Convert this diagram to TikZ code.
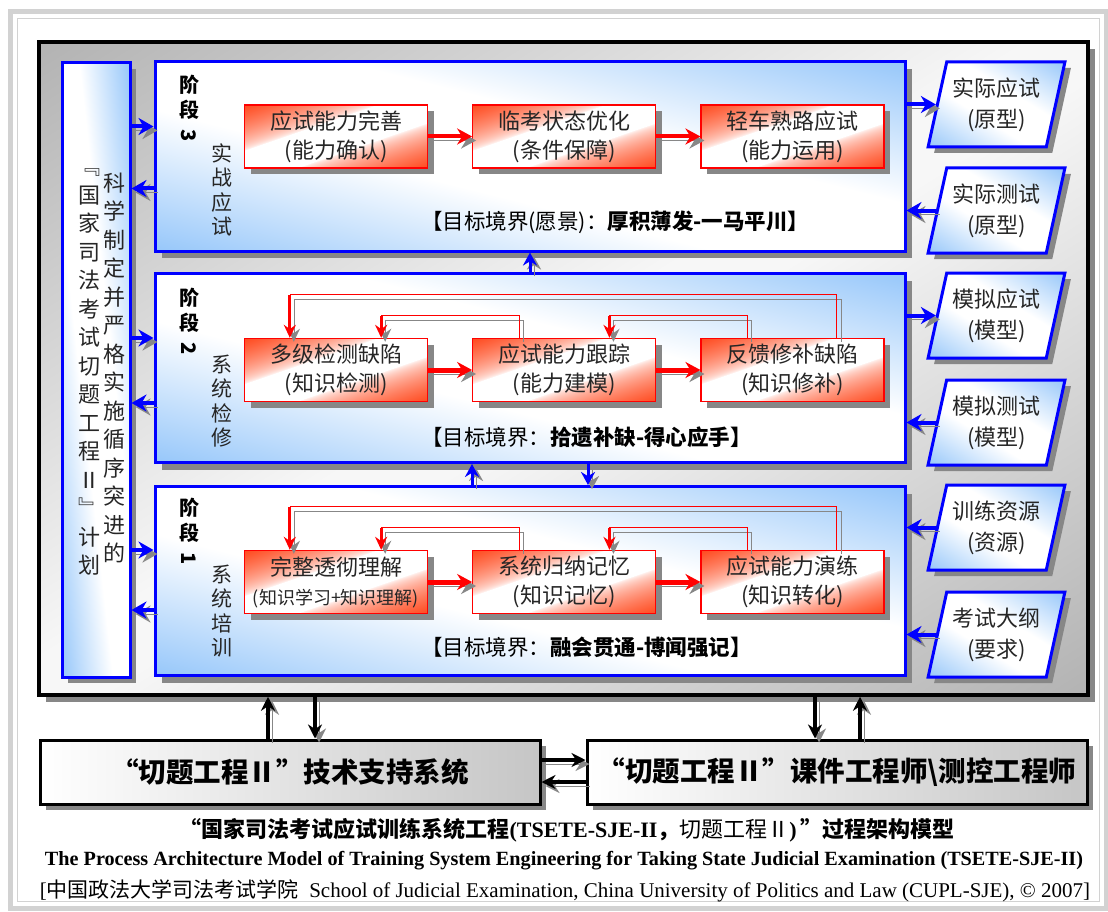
\documentclass[tikz,border=0pt]{standalone}
\usepackage{fontspec}
\setmainfont{Liberation Serif}
\newfontfamily\cjk{Noto Sans CJK SC}
\usepackage{graphicx}
\usetikzlibrary{positioning, shapes.geometric, shadows, arrows.meta}
\usepackage{xcolor}

\definecolor{shadegray}{RGB}{135,135,135}

% corner fades: white band along one diagonal, colour in the other two corners
\pgfdeclarefunctionalshading{redfade}{\pgfpointorigin}{\pgfpoint{100bp}{100bp}}{}{
	exch sub abs 50 div 0.28 sub 0.72 div
	dup 0 lt {pop 0} if dup 1 gt {pop 1} if 0.6 exp
	dup 0.71 mul 1 exch sub
	exch 0.88 mul 1 exch sub
	1 3 1 roll
}
\pgfdeclarefunctionalshading{bluefade}{\pgfpointorigin}{\pgfpoint{100bp}{100bp}}{}{
	add 100 sub abs 50 div 0.25 sub 0.75 div
	dup 0 lt {pop 0} if dup 1 gt {pop 1} if
	dup 0.41 mul 1 exch sub
	exch dup 0.22 mul 1 exch sub
	exch 0.02 mul 1 exch sub
}
\pgfdeclarefunctionalshading{grayfade}{\pgfpointorigin}{\pgfpoint{100bp}{100bp}}{}{
	exch sub abs 50 div 0.05 sub 0.95 div
	dup 0 lt {pop 0} if dup 1 gt {pop 1} if
	0.27 mul 0.97 exch sub dup dup
}

\begin{document}
\begin{tikzpicture}[x=1pt, y=-1pt,
		boxshadow/.style={drop shadow={shadow xshift=#1, shadow yshift=-#1, fill=shadegray, opacity=1}},
		arrshadow/.style={preaction={draw=shadegray, transform canvas={xshift=4pt, yshift=-4pt}}},
		mainbox/.style={draw=black, line width=3.5pt, shade, shading=grayfade, minimum width=1049pt, minimum height=653pt, boxshadow=7pt},
		planbox/.style={draw=blue, line width=3pt, shade, shading=bluefade, minimum width=68pt, minimum height=614pt, boxshadow=6pt},
		stagebox/.style={draw=blue, line width=3pt, shade, shading=bluefade, minimum width=750pt, minimum height=189pt, boxshadow=7pt},
		stepbox/.style={draw=red, line width=1.3pt, shade, shading=redfade, minimum width=183pt, minimum height=63pt, inner sep=0pt, align=center, text=black!85, font=\cjk\fontsize{22}{29}\selectfont, boxshadow=6pt},
		sourcebox/.style={trapezium, trapezium left angle=73, trapezium right angle=107, trapezium stretches=true, draw=blue, line width=3pt, shade, shading=bluefade, minimum width=137pt, minimum height=85pt, inner sep=0pt, align=center, text=black!85, font=\cjk\fontsize{22}{31}\selectfont, boxshadow=6pt},
		basebox/.style={draw=black, line width=3pt, left color=white, right color=gray!45, minimum width=500pt, minimum height=64pt, font=\cjk\bfseries\fontsize{27.5}{30}\selectfont, boxshadow=6pt},
		stagelbl/.style={font=\cjk\bfseries\fontsize{20}{25}\selectfont, align=center, inner sep=0pt, anchor=north},
		sidelbl/.style={font=\cjk\fontsize{21}{24.5}\selectfont, align=center, inner sep=0pt, text=black!85},
		plantxt/.style={font=\cjk\fontsize{22}{28.5}\selectfont, align=center, inner sep=0pt, text=black!85},
		goal/.style={font=\cjk\fontsize{21.5}{25}\selectfont, anchor=west, inner sep=0pt},
		bluearrow/.style={draw=blue, line width=4pt, -{Stealth[length=15pt, width=17pt]}, arrshadow},
		bluetip/.style={draw=blue, line width=3pt, -{Stealth[length=13pt, width=14pt]}, arrshadow},
		redarrow/.style={draw=red, line width=#1, -{Stealth[length=15pt, width=16pt]}, arrshadow},
		loopline/.style={draw=red, line width=1.2pt, arrshadow},
		looparrow/.style={draw=red, line width=3pt, -{Stealth[length=13pt, width=12pt]}, arrshadow},
		blackarrow/.style={draw=black, line width=3.5pt, -{Stealth[length=14pt, width=14pt]}, arrshadow}]
			\useasboundingbox (0,0) rectangle (1108,912);
			% Page frame
			\draw[gray!35, line width=5pt] (10,12) rectangle (1106,908);
			\draw[gray!35, line width=1pt] (17,19) rectangle (1099,901);
			% Main frame
			\node[mainbox] (frame) at (563.5,368.5) {};
			% Plan column
			\node[planbox] (plan) at (96,370) {};
			\node[plantxt] (plana) at (89,372) {﹃\\国\\家\\司\\法\\考\\试\\切\\题\\工\\程\\Ⅱ\\﹄\\计\\划};
			\node[plantxt] (planb) at (114,368) {科\\学\\制\\定\\并\\严\\格\\实\\施\\循\\序\\突\\进\\的};
			% Stage panels
			\node[stagebox] (stage3) at (530,156.5) {};
			\node[stagebox] (stage2) at (530,368) {};
			\node[stagebox] (stage1) at (530,581) {};
			\node[stagelbl] (lbl3) at (189,75) {阶\\段\\\rotatebox[origin=c]{-90}{3}};
			\node[stagelbl] (lbl2) at (189,288) {阶\\段\\\rotatebox[origin=c]{-90}{2}};
			\node[stagelbl] (lbl1) at (189,498) {阶\\段\\\rotatebox[origin=c]{-90}{1}};
			\node[sidelbl] (side3) at (222,190) {实\\战\\应\\试};
			\node[sidelbl] (side2) at (222,401) {系\\统\\检\\修};
			\node[sidelbl] (side1) at (222,611) {系\\统\\培\\训};
			% Stage 3
			\node[stepbox] (s31) at (336,136.5) {应试能力完善\\(能力确认)};
			\node[stepbox, right=44pt of s31] (s32) {临考状态优化\\(条件保障)};
			\node[stepbox, right=44pt of s32] (s33) {轻车熟路应试\\(能力运用)};
			\draw[redarrow=4pt] (s31) -- (s32);
			\draw[redarrow=4pt] (s32) -- (s33);
			\node[goal] (goal3) at (421,222) {【目标境界(愿景)：{\bfseries 厚积薄发-一马平川】}};
			% Stage 2
			\node[stepbox] (s21) at (336,370) {多级检测缺陷\\(知识检测)};
			\node[stepbox, right=44pt of s21] (s22) {应试能力跟踪\\(能力建模)};
			\node[stepbox, right=44pt of s22] (s23) {反馈修补缺陷\\(知识修补)};
			\draw[redarrow=5pt] (s21) -- (s22);
			\draw[redarrow=5pt] (s22) -- (s23);
			\draw[loopline] ([xshift=-48pt]s23.north east) |- ([xshift=46pt, yshift=43pt]s21.north west);
			\draw[looparrow] ([xshift=46pt, yshift=43pt]s21.north west) -- ([xshift=46pt]s21.north west);
			\draw[loopline] ([xshift=47pt]s22.north west) |- ([xshift=-47pt, yshift=22pt]s21.north east);
			\draw[looparrow] ([xshift=-47pt, yshift=22pt]s21.north east) -- ([xshift=-47pt]s21.north east);
			\draw[loopline] ([xshift=47pt]s23.north west) |- ([xshift=-47pt, yshift=22pt]s22.north east);
			\draw[looparrow] ([xshift=-47pt, yshift=22pt]s22.north east) -- ([xshift=-47pt]s22.north east);
			\node[goal] (goal2) at (421,437) {【目标境界：{\bfseries 拾遗补缺-得心应手】}};
			% Stage 1
			\node[stepbox] (s11) at (336,582) {完整透彻理解\\{\fontsize{18}{22}\selectfont (知识学习+知识理解)}};
			\node[stepbox, right=44pt of s11] (s12) {系统归纳记忆\\(知识记忆)};
			\node[stepbox, right=44pt of s12] (s13) {应试能力演练\\(知识转化)};
			\draw[redarrow=5pt] (s11) -- (s12);
			\draw[redarrow=5pt] (s12) -- (s13);
			\draw[loopline] ([xshift=-48pt]s13.north east) |- ([xshift=46pt, yshift=43pt]s11.north west);
			\draw[looparrow] ([xshift=46pt, yshift=43pt]s11.north west) -- ([xshift=46pt]s11.north west);
			\draw[loopline] ([xshift=47pt]s12.north west) |- ([xshift=-47pt, yshift=22pt]s11.north east);
			\draw[looparrow] ([xshift=-47pt, yshift=22pt]s11.north east) -- ([xshift=-47pt]s11.north east);
			\draw[loopline] ([xshift=47pt]s13.north west) |- ([xshift=-47pt, yshift=22pt]s12.north east);
			\draw[looparrow] ([xshift=-47pt, yshift=22pt]s12.north east) -- ([xshift=-47pt]s12.north east);
			\node[goal] (goal1) at (421,647) {【目标境界：{\bfseries 融会贯通-博闻强记】}};
			% Plan <-> stages
			\coordinate (in3) at ([yshift=30pt]stage3.west);
			\coordinate (out3) at ([yshift=-32pt]stage3.west);
			\coordinate (in2) at ([yshift=30pt]stage2.west);
			\coordinate (out2) at ([yshift=-35pt]stage2.west);
			\coordinate (in1) at ([yshift=31pt]stage1.west);
			\coordinate (out1) at ([yshift=-29pt]stage1.west);
			\draw[bluearrow] (in3 -| plan.east) -- (in3);
			\draw[bluearrow] (out3) -- (out3 -| plan.east);
			\draw[bluearrow] (in2 -| plan.east) -- (in2);
			\draw[bluearrow] (out2) -- (out2 -| plan.east);
			\draw[bluearrow] (in1 -| plan.east) -- (in1);
			\draw[bluearrow] (out1) -- (out1 -| plan.east);
			% Stage <-> stage
			\draw[bluetip] (stage2.north) -- (stage3.south);
			\draw[bluetip] ([xshift=-58pt]stage1.north) -- ([xshift=-58pt]stage2.south);
			\draw[bluetip] ([xshift=58pt]stage2.south) -- ([xshift=58pt]stage1.north);
			% Sources
			\node[sourcebox] (real) at (996.5,104.5) {实际应试\\(原型)};
			\node[sourcebox] (realtest) at (996.5,210.5) {实际测试\\(原型)};
			\node[sourcebox] (mock) at (996.5,315.5) {模拟应试\\(模型)};
			\node[sourcebox] (mocktest) at (996.5,422.5) {模拟测试\\(模型)};
			\node[sourcebox] (res) at (996.5,527.5) {训练资源\\(资源)};
			\node[sourcebox] (outline) at (996.5,634.5) {考试大纲\\(要求)};
			\draw[bluearrow] (stage3.east |- real.west) -- (real.west);
			\draw[bluearrow] (realtest.west) -- (stage3.east |- realtest.west);
			\draw[bluearrow] (stage2.east |- mock.west) -- (mock.west);
			\draw[bluearrow] (mocktest.west) -- (stage2.east |- mocktest.west);
			\draw[bluearrow] (res.west) -- (stage1.east |- res.west);
			\draw[bluearrow] (outline.west) -- (stage1.east |- outline.west);
			% Support systems
			\node[basebox] (tech) at (290,772) {“切题工程Ⅱ”技术支持系统};
			\node[basebox, right=44pt of tech] (staff) {“切题工程Ⅱ”课件工程师\textbackslash 测控工程师};
			\coordinate (techup) at ([xshift=-22pt]tech.north);
			\coordinate (techdown) at ([xshift=25pt]tech.north);
			\coordinate (staffdown) at ([xshift=-22pt]staff.north);
			\coordinate (staffup) at ([xshift=23pt]staff.north);
			\draw[blackarrow] (techup) -- (techup |- frame.south);
			\draw[blackarrow] (techdown |- frame.south) -- (techdown);
			\draw[blackarrow] (staffdown |- frame.south) -- (staffdown);
			\draw[blackarrow] (staffup) -- (staffup |- frame.south);
			\draw[blackarrow] ([yshift=12pt]tech.east) -- ([yshift=12pt]staff.west);
			\draw[blackarrow] ([yshift=-10pt]staff.west) -- ([yshift=-10pt]tech.east);
			% Caption
			\node[font=\bfseries\fontsize{22}{25}\selectfont, inner sep=0pt] (title) at (567,830) {{\cjk “国家司法考试应试训练系统工程}(TSETE-SJE-II{\cjk ，\mdseries 切题工程Ⅱ})\,{\cjk ”过程架构模型}};
			\node[inner sep=0pt] (entitle) at (564,861) {\resizebox{1038pt}{!}{\bfseries\fontsize{21}{25}\selectfont The Process Architecture Model of Training System Engineering for Taking State Judicial Examination (TSETE-SJE-II)}};
			\node[inner sep=0pt] (credit) at (565,891) {\resizebox{1050pt}{!}{\fontsize{21}{25}\selectfont [{\cjk 中国政法大学司法考试学院}\ \ School of Judicial Examination, China University of Politics and Law (CUPL-SJE), \textcopyright\ 2007]}};
		\end{tikzpicture}
\end{document}
